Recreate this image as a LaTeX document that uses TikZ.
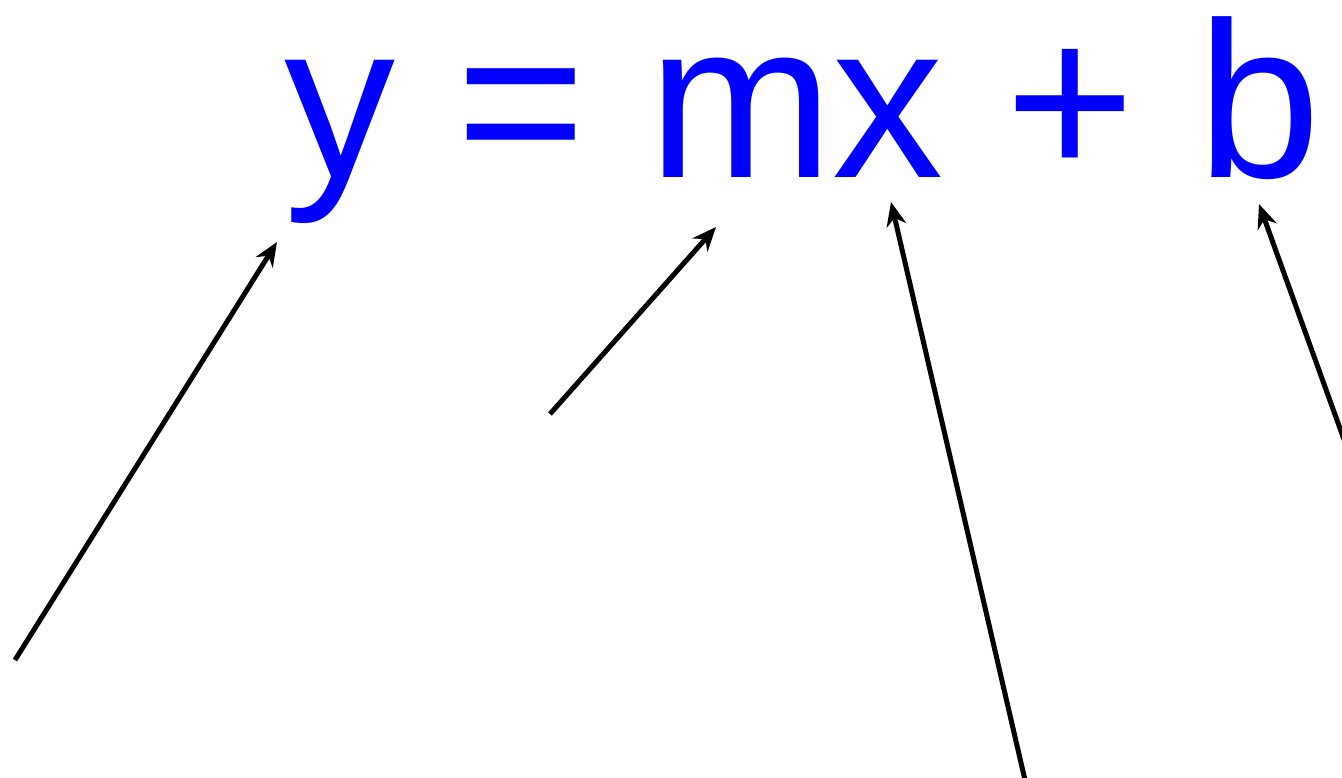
\documentclass[tikz,border=0pt]{standalone}
\usepackage{fontspec}
\setmainfont{Liberation Sans}
\usetikzlibrary{arrows.meta}
\definecolor{eqblue}{RGB}{0,0,255}
\begin{document}
\begin{tikzpicture}[x=1pt,y=1pt,
  eq/.style={text=eqblue,inner sep=0pt,font=\fontsize{222}{222}\selectfont},
  pointer/.style={line width=5pt,-{Stealth[length=24pt,width=20pt]}}]
\useasboundingbox (0,0) rectangle (1342,-777);
\node[eq,anchor=base west] (eqn) at (284,-177) {y = mx + b};
\coordinate (s1) at (15,-660);
\coordinate (e1) at (277,-242);
\coordinate (s2) at (550,-414);
\coordinate (e2) at (716,-227);
\coordinate (s3) at (1025,-780);
\coordinate (e3) at (891,-202);
\coordinate (s4) at (1346,-445);
\coordinate (e4) at (1259,-204);
\draw[pointer] (s1) -- (e1);
\draw[pointer] (s2) -- (e2);
\draw[pointer] (s3) -- (e3);
\draw[pointer] (s4) -- (e4);
\end{tikzpicture}
\end{document}
